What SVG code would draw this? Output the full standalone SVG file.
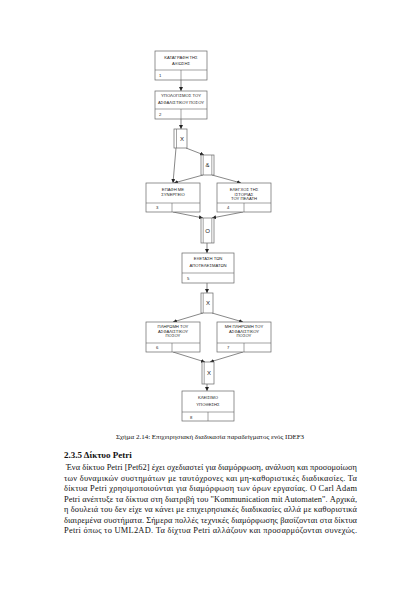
<svg xmlns="http://www.w3.org/2000/svg" width="420" height="594" viewBox="0 0 420 594">
<defs>
<marker id="ah" viewBox="0 0 6 6" refX="6" refY="3" markerWidth="4" markerHeight="4" orient="auto" markerUnits="userSpaceOnUse">
<path d="M0,0 L6,3 L0,6 Z" fill="#222"/>
</marker>
<style>
.b{fill:#fff;stroke:#666;stroke-width:0.7}
.l{stroke:#666;stroke-width:0.6;fill:none}
.t{font-family:"Liberation Sans",Arial,sans-serif;font-size:4.2px;fill:#222;text-anchor:middle}
.n{font-family:"Liberation Sans",Arial,sans-serif;font-size:4.2px;fill:#222}
.j{font-family:"Liberation Sans",Arial,sans-serif;font-size:6px;fill:#222;text-anchor:middle}
.c{stroke:#555;stroke-width:0.7;fill:none;marker-end:url(#ah)}
.s{font-family:"Liberation Serif","Times New Roman",serif;fill:#111}
</style>
</defs>
<rect width="420" height="594" fill="#fff"/>
<g id="connectors">
<line class="c" x1="181" y1="80" x2="181" y2="91"/>
<line class="c" x1="181" y1="119" x2="181" y2="129"/>
<line class="c" x1="176" y1="148" x2="173" y2="183"/>
<line class="c" x1="186" y1="148" x2="204" y2="155"/>
<line class="c" x1="203" y1="175" x2="174" y2="183"/>
<line class="c" x1="212" y1="175" x2="241" y2="183"/>
<line class="c" x1="173" y1="212" x2="203" y2="218"/>
<line class="c" x1="243" y1="212" x2="212" y2="218"/>
<line class="c" x1="207" y1="243" x2="207" y2="253"/>
<line class="c" x1="207" y1="283" x2="207" y2="293"/>
<line class="c" x1="203" y1="313" x2="173" y2="322"/>
<line class="c" x1="212" y1="313" x2="243" y2="322"/>
<line class="c" x1="173" y1="352" x2="205" y2="362"/>
<line class="c" x1="243" y1="352" x2="210" y2="362"/>
<line class="c" x1="207" y1="384" x2="207" y2="391"/>
</g>
<g id="box1">
<rect class="b" x="155" y="51" width="52" height="29"/>
<line class="l" x1="155" y1="70" x2="207" y2="70"/>
<line class="l" x1="181" y1="70" x2="181" y2="80"/>
<text class="t" x="181" y="58.5">ΚΑΤΑΓΡΑΦΗ ΤΗΣ</text>
<text class="t" x="181" y="64.5">ΑΞΙΩΣΗΣ</text>
<text class="n" x="159" y="76.5">1</text>
</g>
<g id="box2">
<rect class="b" x="155" y="91" width="52" height="28"/>
<line class="l" x1="155" y1="109" x2="207" y2="109"/>
<line class="l" x1="181" y1="109" x2="181" y2="119"/>
<text class="t" x="181" y="97">ΥΠΟΛΟΓΙΣΜΟΣ ΤΟΥ</text>
<text class="t" x="181" y="103.5">ΑΣΦΑΛΙΣΤΙΚΟΥ ΠΟΣΟΥ</text>
<text class="n" x="159" y="115.5">2</text>
</g>
<g id="jx1">
<rect class="b" x="174" y="129" width="13" height="19"/>
<line class="l" x1="176.5" y1="129" x2="176.5" y2="148"/>
<text class="j" x="182" y="140.5">X</text>
</g>
<g id="jand">
<rect class="b" x="201" y="155" width="13" height="20"/>
<line class="l" x1="203.2" y1="155" x2="203.2" y2="175"/>
<line class="l" x1="211.8" y1="155" x2="211.8" y2="175"/>
<text class="j" x="207.5" y="167">&amp;</text>
</g>
<g id="box3">
<rect class="b" x="146" y="183" width="54" height="29"/>
<line class="l" x1="146" y1="203" x2="200" y2="203"/>
<line class="l" x1="172" y1="203" x2="172" y2="212"/>
<text class="t" x="173" y="191">ΕΠΑΦΗ ΜΕ</text>
<text class="t" x="173" y="196">ΣΥΝΕΡΓΕΙΟ</text>
<text class="n" x="156" y="209">3</text>
</g>
<g id="box4">
<rect class="b" x="217" y="183" width="54" height="29"/>
<line class="l" x1="217" y1="203" x2="271" y2="203"/>
<line class="l" x1="244" y1="203" x2="244" y2="212"/>
<text class="t" x="244" y="191">ΕΛΕΓΧΟΣ ΤΗΣ</text>
<text class="t" x="244" y="195.5">ΙΣΤΟΡΙΑΣ</text>
<text class="t" x="244" y="200">ΤΟΥ ΠΕΛΑΤΗ</text>
<text class="n" x="227" y="209">4</text>
</g>
<g id="jo">
<rect class="b" x="201" y="218" width="13" height="25"/>
<line class="l" x1="203.2" y1="218" x2="203.2" y2="243"/>
<line class="l" x1="211.8" y1="218" x2="211.8" y2="243"/>
<text class="j" x="207.5" y="232.5">O</text>
</g>
<g id="box5">
<rect class="b" x="182" y="253" width="52" height="30"/>
<line class="l" x1="182" y1="273" x2="234" y2="273"/>
<text class="t" x="208" y="260">ΕΞΕΤΑΣΗ ΤΩΝ</text>
<text class="t" x="208" y="266.5">ΑΠΟΤΕΛΕΣΜΑΤΩΝ</text>
<text class="n" x="187" y="279.5">5</text>
</g>
<g id="jx2">
<rect class="b" x="201" y="293" width="12" height="20"/>
<line class="l" x1="203.2" y1="293" x2="203.2" y2="313"/>
<text class="j" x="208" y="305">X</text>
</g>
<g id="box6">
<rect class="b" x="146" y="322" width="54" height="30"/>
<line class="l" x1="146" y1="343" x2="200" y2="343"/>
<line class="l" x1="172" y1="343" x2="172" y2="352"/>
<text class="t" x="173" y="328">ΠΛΗΡΩΜΗ ΤΟΥ</text>
<text class="t" x="173" y="332.5">ΑΣΦΑΛΙΣΤΙΚΟΥ</text>
<text class="t" x="173" y="337">ΠΟΣΟΥ</text>
<text class="n" x="156" y="349">6</text>
</g>
<g id="box7">
<rect class="b" x="217" y="322" width="54" height="30"/>
<line class="l" x1="217" y1="343" x2="271" y2="343"/>
<line class="l" x1="244" y1="343" x2="244" y2="352"/>
<text class="t" x="244" y="328">ΜΗ ΠΛΗΡΩΜΗ ΤΟΥ</text>
<text class="t" x="244" y="332.5">ΑΣΦΑΛΙΣΤΙΚΟΥ</text>
<text class="t" x="244" y="337">ΠΟΣΟΥ</text>
<text class="n" x="227" y="349">7</text>
</g>
<g id="jx3">
<rect class="b" x="202" y="362" width="12" height="22"/>
<line class="l" x1="204.2" y1="362" x2="204.2" y2="384"/>
<text class="j" x="209" y="375">X</text>
</g>
<g id="box8">
<rect class="b" x="182" y="391" width="52" height="30"/>
<line class="l" x1="182" y1="412" x2="234" y2="412"/>
<line class="l" x1="208" y1="412" x2="208" y2="421"/>
<text class="t" x="208" y="399">ΚΛΕΙΣΙΜΟ</text>
<text class="t" x="208" y="406">ΥΠΟΘΕΣΗΣ</text>
<text class="n" x="190" y="418.5">8</text>
</g>
<g id="caption">
<text class="s" x="210" y="439" font-size="7" text-anchor="middle">Σχήμα 2.14: Επιχειρησιακή διαδικασία παραδείγματος ενός IDEF3</text>
</g>
<g id="body">
<text class="s" x="64" y="458" font-size="9" font-weight="bold">2.3.5 Δίκτυο Petri</text>
<text class="s" x="66" y="470" font-size="8.4" textLength="291" lengthAdjust="spacing">Ένα δίκτυο Petri [Pet62] έχει σχεδιαστεί για διαμόρφωση, ανάλυση και προσομοίωση</text>
<text class="s" x="64" y="480.5" font-size="8.4" textLength="293" lengthAdjust="spacing">των δυναμικών συστημάτων με ταυτόχρονες και μη-καθοριστικές διαδικασίες. Τα</text>
<text class="s" x="64" y="491" font-size="8.4" textLength="293" lengthAdjust="spacing">δίκτυα Petri χρησιμοποιούνται για διαμόρφωση των όρων εργασίας. Ο Carl Adam</text>
<text class="s" x="64" y="501.5" font-size="8.4" textLength="293" lengthAdjust="spacing">Petri ανέπτυξε τα δίκτυα στη διατριβή του "Kommunication mit Automaten". Αρχικά,</text>
<text class="s" x="64" y="512" font-size="8.4" textLength="293" lengthAdjust="spacing">η δουλειά του δεν είχε να κάνει με επιχειρησιακές διαδικασίες αλλά με καθοριστικά</text>
<text class="s" x="64" y="522.5" font-size="8.4" textLength="293" lengthAdjust="spacing">διαιρεμένα συστήματα. Σήμερα πολλές τεχνικές διαμόρφωσης βασίζονται στα δίκτυα</text>
<text class="s" x="64" y="533" font-size="8.4" textLength="293" lengthAdjust="spacing">Petri όπως το UML2AD. Τα δίχτυα Petri αλλάζουν και προσαρμόζονται συνεχώς.</text>
</g>
</svg>
